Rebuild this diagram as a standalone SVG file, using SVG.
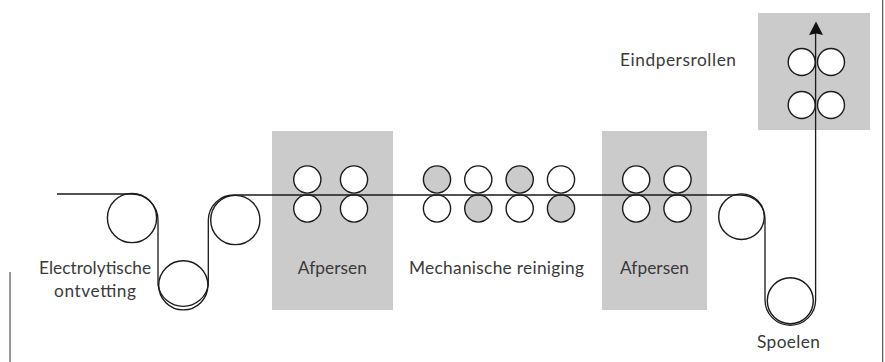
<svg xmlns="http://www.w3.org/2000/svg" width="885" height="362" viewBox="0 0 885 362">
<style>
.bg{fill:#cbcbcb}
.r{fill:#fff;stroke:#1a1a1a;stroke-width:1.4}
.g{fill:#cbcbcb;stroke:#1a1a1a;stroke-width:1.4}
.t{font-family:"Lato","Noto Sans",sans-serif;font-size:17.3px;fill:#3a3a3a;text-anchor:middle}
.l{fill:none;stroke:#1a1a1a;stroke-width:1.3}
</style>
<rect width="885" height="362" fill="#fff"/>
<g id="afpersen-1"><rect class="bg" x="272" y="131" width="121" height="179"/>
<circle class="r" cx="307.3" cy="179.5" r="13.6"/><circle class="r" cx="354" cy="179.5" r="13.6"/><circle class="r" cx="307.3" cy="208.5" r="13.6"/><circle class="r" cx="354" cy="208.5" r="13.6"/>
<text class="t" x="332.3" y="274" textLength="69">Afpersen</text></g>
<g id="afpersen-2"><rect class="bg" x="602" y="131" width="105" height="179"/>
<circle class="r" cx="636.2" cy="179.5" r="13.6"/><circle class="r" cx="677.5" cy="179.5" r="13.6"/><circle class="r" cx="636.2" cy="208.5" r="13.6"/><circle class="r" cx="677.5" cy="208.5" r="13.6"/>
<text class="t" x="654.5" y="274" textLength="69">Afpersen</text></g>
<g id="eindpersrollen"><rect class="bg" x="758" y="13" width="112" height="117"/>
<circle class="r" cx="801.7" cy="62" r="13.5"/><circle class="r" cx="831" cy="62" r="13.5"/><circle class="r" cx="801.7" cy="105" r="13.5"/><circle class="r" cx="831" cy="105" r="13.5"/>
<text class="t" x="678" y="66" textLength="116">Eindpersrollen</text></g>
<g id="mechanische-reiniging">
<circle class="g" cx="437" cy="179.5" r="13.6"/><circle class="r" cx="478.3" cy="179.5" r="13.6"/><circle class="g" cx="519.7" cy="179.5" r="13.6"/><circle class="r" cx="561" cy="179.5" r="13.6"/>
<circle class="r" cx="437" cy="208.5" r="13.6"/><circle class="g" cx="478.3" cy="208.5" r="13.6"/><circle class="r" cx="519.7" cy="208.5" r="13.6"/><circle class="g" cx="561" cy="208.5" r="13.6"/>
<text class="t" x="496.5" y="274" textLength="175">Mechanische reiniging</text></g>
<g id="electrolytische-ontvetting">
<circle class="r" cx="132" cy="218" r="24.6"/><circle class="r" cx="183.3" cy="285.3" r="24.6"/><circle class="r" cx="235.3" cy="220" r="24.6"/>
<text class="t" x="95" y="274" textLength="112">Electrolytische</text><text class="t" x="95" y="297" textLength="82">ontvetting</text></g>
<g id="spoelen">
<circle class="r" cx="741.5" cy="216.7" r="22.8"/><circle class="r" cx="790.3" cy="300.8" r="23"/>
<text class="t" x="788.5" y="348" textLength="63">Spoelen</text></g>
<g id="connectors">
<path class="l" d="M57 194H132A26 26 0 0 1 158 220V285A25.5 25.5 0 0 0 208.3 285V220A25.5 25.5 0 0 1 234 195H741A24 24 0 0 1 765 219V300A25.3 25.3 0 0 0 815.6 300V30"/>
<path d="M816 21.5L823 35L816 33.5L809 35Z" fill="#111"/>
<path d="M10 272V362M882.7 0V362" fill="none" stroke="#444" stroke-width="1.1"/>
</g>
</svg>
